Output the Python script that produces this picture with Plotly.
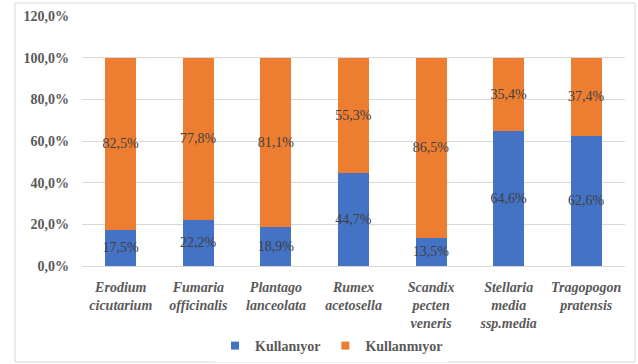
import plotly.graph_objects as go

# Species (multi-line tick labels) and usage shares in percent
species = [
    "Erodium<br>cicutarium",
    "Fumaria<br>officinalis",
    "Plantago<br>lanceolata",
    "Rumex<br>acetosella",
    "Scandix<br>pecten<br>veneris",
    "Stellaria<br>media<br>ssp.media",
    "Tragopogon<br>pratensis",
]
kullaniyor = [17.5, 22.2, 18.9, 44.7, 13.5, 64.6, 62.6]
kullanmiyor = [82.5, 77.8, 81.1, 55.3, 86.5, 35.4, 37.4]
y_ticks = [0, 20, 40, 60, 80, 100, 120]
y_tick_text = [f"{v:.1f}%".replace(".", ",") for v in y_ticks]

series = [("Kullanıyor", kullaniyor, "#4472C4"), ("Kullanmıyor", kullanmiyor, "#ED7D31")]

serif = "Liberation Serif"
label_font = dict(family=serif, size=14, color="#404040")

fig = go.Figure()
for name, values, color in series:
    fig.add_trace(go.Bar(
        x=species, y=values, name=name, showlegend=False,
        marker=dict(color=color, line=dict(width=0)),
        texttemplate="%{y:.1f}%", textposition="inside", insidetextanchor="middle",
        textangle=0, constraintext="none", textfont=label_font,
    ))
# Small square legend swatches
for name, values, color in series:
    fig.add_trace(go.Scatter(
        x=[None], y=[None], mode="markers", name=name,
        marker=dict(symbol="square", size=8, color=color),
    ))

fig.update_layout(
    width=638, height=364,
    margin=dict(l=82, r=13, t=16, b=98, autoexpand=False),
    barmode="stack", bargap=0.6,
    separators=",.",
    paper_bgcolor="white", plot_bgcolor="white",
    font=dict(family=serif, color="#595959"),
    showlegend=True,
    legend=dict(
        orientation="h", x=0.245, xanchor="left", y=-0.32, yanchor="middle",
        font=dict(family=serif, size=14, color="#595959", weight="bold"),
        itemwidth=30, traceorder="normal",
    ),
    shapes=[dict(
        type="rect", xref="paper", yref="paper",
        x0=-0.1234, x1=1.0185, y0=-0.384, y1=1.052,
        line=dict(color="#d9d9d9", width=1), fillcolor="rgba(0,0,0,0)",
        layer="below",
    )],
)
fig.update_yaxes(
    range=[0, 120], tickvals=y_ticks, ticktext=y_tick_text,
    showgrid=True, gridcolor="#d9d9d9", gridwidth=1,
    zeroline=False, showline=False, ticks="",
    tickfont=dict(family=serif, size=14, color="#595959", weight="bold"),
    ticklabelstandoff=12, automargin=False,
)
fig.update_xaxes(
    showline=True, linecolor="#d9d9d9", linewidth=1, ticks="",
    tickfont=dict(family=serif, size=14, color="#595959", weight="bold", style="italic"),
    tickangle=0, ticklabelstandoff=8, automargin=False,
)

fig.write_html("out.html")
